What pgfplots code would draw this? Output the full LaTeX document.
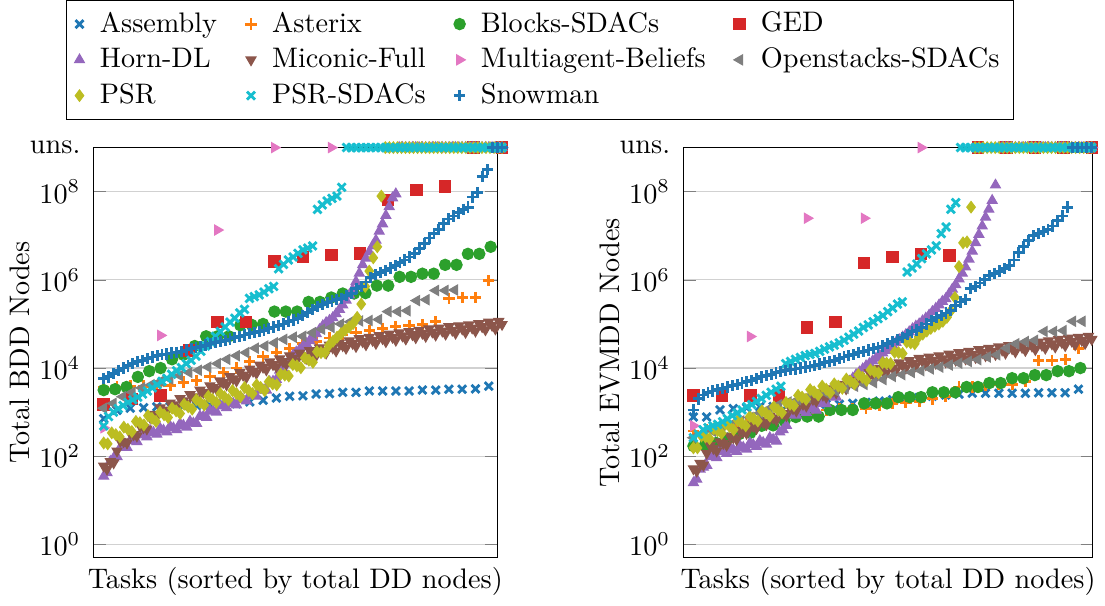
\documentclass[border=0pt]{standalone}
\usepackage{pgfplots}
\pgfplotsset{compat=1.18}
\definecolor{tBlue}{HTML}{1F77B4}
\definecolor{tOrange}{HTML}{FF7F0E}
\definecolor{tGreen}{HTML}{2CA02C}
\definecolor{tRed}{HTML}{D62728}
\definecolor{tPurple}{HTML}{9467BD}
\definecolor{tBrown}{HTML}{8C564B}
\definecolor{tPink}{HTML}{E377C2}
\definecolor{tGray}{HTML}{7F7F7F}
\definecolor{tOlive}{HTML}{BCBD22}
\definecolor{tCyan}{HTML}{17BECF}

\pgfplotsset{
  serAsm/.style={only marks, color=tBlue, mark=x, mark options={line width=1pt}},
  serAst/.style={only marks, color=tOrange, mark=+, mark options={line width=1pt}},
  serBlk/.style={only marks, color=tGreen, mark=*},
  serGed/.style={only marks, color=tRed, mark=square*},
  serHor/.style={only marks, color=tPurple, mark=triangle*},
  serMic/.style={only marks, color=tBrown, mark=triangle*, mark options={rotate=180}},
  serMul/.style={only marks, color=tPink, mark=triangle*, mark options={rotate=-90}},
  serOps/.style={only marks, color=tGray, mark=triangle*, mark options={rotate=90}},
  serPsr/.style={only marks, color=tOlive, mark=diamond*},
  serPss/.style={only marks, color=tCyan, mark=x, mark options={line width=1pt}},
  serSno/.style={only marks, color=tBlue, mark=+, mark options={line width=1pt}},
}

\begin{document}
\begin{tikzpicture}
% ---------------- BDD ----------------
\begin{axis}[scale only axis, width=142.8pt, height=145.2pt,
  xmin=-0.025, xmax=0.9875, ymode=log, ymin=0.5, ymax=1e9, xtick=\empty,
  ytick={1,1e2,1e4,1e6,1e8,1e9},
  yticklabels={$10^0$,$10^2$,$10^4$,$10^6$,$10^8$,uns.},
  yticklabel style={xshift=-1.2pt},
  ymajorgrids, grid style={black!18}, clip=false,
  xlabel={Tasks (sorted by total DD nodes)},
  ylabel={Total BDD Nodes},
  ylabel style={at={(axis description cs:-0.135,0.5)}, anchor=south},
  legend columns=4, legend cell align=left,
  legend style={at={(1.106,1.068)}, anchor=south, draw=black,
    /tikz/every odd column/.append style={column sep=3.5pt},
    /tikz/every even column/.append style={column sep=8pt}}]
\addplot[serAsm] table[header=false, row sep=\\, y index=0, x expr=\coordindex/30] {
7.1e2\\1.1e3\\1.23e3\\1.26e3\\1.32e3\\1.35e3\\1.38e3\\1.41e3\\1.45e3\\1.51e3\\
1.55e3\\1.7e3\\1.86e3\\2.09e3\\2.29e3\\2.34e3\\2.57e3\\2.63e3\\2.82e3\\2.82e3\\
3.02e3\\3.02e3\\3.02e3\\3.02e3\\3.16e3\\3.16e3\\3.31e3\\3.31e3\\3.39e3\\3.89e3\\
1e9\\};
\addlegendentry{Assembly}
\addplot[serAst] table[header=false, row sep=\\, y index=0, x expr=\coordindex/30] {
3.55e3\\3.72e3\\3.89e3\\3.89e3\\3.98e3\\3.98e3\\4.79e3\\5.25e3\\6.46e3\\7.94e3\\
1e4\\1.41e4\\1.86e4\\2.24e4\\2.82e4\\3.55e4\\3.98e4\\4.79e4\\5.62e4\\6.31e4\\
7.08e4\\7.94e4\\8.71e4\\9.33e4\\9.55e4\\1.12e5\\3.8e5\\3.98e5\\3.98e5\\9.55e5\\
1e9\\};
\addlegendentry{Asterix}
\addplot[serBlk] table[header=false, row sep=\\, y index=0, x expr=\coordindex/35] {
3.16e3\\3.31e3\\3.72e3\\6.31e3\\8.51e3\\1e4\\1.58e4\\2e4\\3.16e4\\5.25e4\\
5.25e4\\5.25e4\\9.33e4\\9.55e4\\1e5\\1.91e5\\1.91e5\\1.91e5\\3.16e5\\3.16e5\\
3.98e5\\4.9e5\\4.9e5\\5.01e5\\7.41e5\\7.41e5\\1.17e6\\1.17e6\\1.38e6\\1.38e6\\
2.19e6\\2.19e6\\3.89e6\\3.89e6\\5.62e6\\1e9\\};
\addlegendentry{Blocks-SDACs}
\addplot[serGed] table[header=false, row sep=\\, y index=0, x expr=\coordindex/14] {
1.5e3\\2e3\\2.4e3\\2.5e4\\1.1e5\\1.1e5\\2.6e6\\3.3e6\\3.7e6\\4e6\\
6.5e7\\1.1e8\\1.3e8\\1e9\\1e9\\};
\addlegendentry{GED}
\addplot[serHor] table[header=false, row sep=\\, y index=0, x expr=\coordindex/120] {
35\\42\\76\\91\\98\\158\\166\\158\\229\\224\\
214\\316\\302\\275\\380\\347\\316\\427\\389\\355\\
479\\437\\398\\550\\501\\457\\617\\562\\550\\813\\
794\\759\\1.1e3\\1.05e3\\1e3\\1.45e3\\1.38e3\\1.26e3\\1.74e3\\1.58e3\\
1.45e3\\2.04e3\\1.91e3\\1.78e3\\2.51e3\\2.4e3\\2.29e3\\3.31e3\\3.16e3\\3.16e3\\
4.9e3\\5.01e3\\5.5e3\\8.91e3\\9.77e3\\1.23e4\\1.55e4\\1.95e4\\2.29e4\\2.63e4\\
3.09e4\\3.63e4\\4.17e4\\4.9e4\\6.03e4\\7.41e4\\9.12e4\\1.07e5\\1.2e5\\1.38e5\\
1.7e5\\2.14e5\\2.69e5\\3.47e5\\4.57e5\\6.03e5\\9.12e5\\1.41e6\\2.19e6\\3.09e6\\
4.27e6\\5.89e6\\7.94e6\\1.26e7\\1.86e7\\2.88e7\\4.57e7\\7.24e7\\8.91e7\\1e9\\
1e9\\1e9\\1e9\\1e9\\1e9\\1e9\\1e9\\1e9\\1e9\\1e9\\
1e9\\1e9\\1e9\\1e9\\1e9\\1e9\\1e9\\1e9\\1e9\\1e9\\
1e9\\1e9\\1e9\\1e9\\1e9\\1e9\\1e9\\1e9\\1e9\\1e9\\
1e9\\};
\addlegendentry{Horn-DL}
\addplot[serMic] table[header=false, row sep=\\, y index=0, x expr=\coordindex/120] {
60\\51\\76\\71\\132\\219\\214\\200\\331\\309\\
288\\479\\447\\417\\759\\891\\794\\1.26e3\\1.12e3\\1.02e3\\
1.62e3\\1.48e3\\1.32e3\\2.04e3\\1.82e3\\1.62e3\\2.51e3\\2.24e3\\2e3\\3.16e3\\
2.82e3\\2.57e3\\3.98e3\\3.63e3\\3.31e3\\5.13e3\\4.68e3\\4.17e3\\6.46e3\\5.75e3\\
5.13e3\\7.94e3\\6.92e3\\6.17e3\\9.55e3\\8.51e3\\7.59e3\\1.17e4\\1.05e4\\9.12e3\\
1.38e4\\1.2e4\\1.07e4\\1.62e4\\1.41e4\\1.23e4\\1.91e4\\1.66e4\\1.45e4\\2.19e4\\
1.91e4\\1.66e4\\2.51e4\\2.19e4\\1.91e4\\2.88e4\\2.51e4\\2.19e4\\3.31e4\\2.88e4\\
2.45e4\\3.72e4\\3.24e4\\2.82e4\\4.17e4\\3.63e4\\3.09e4\\4.68e4\\3.98e4\\3.39e4\\
5.01e4\\4.27e4\\3.63e4\\5.5e4\\4.68e4\\3.98e4\\5.89e4\\5.01e4\\4.27e4\\6.31e4\\
5.37e4\\4.57e4\\6.76e4\\5.75e4\\4.9e4\\7.24e4\\6.17e4\\5.25e4\\7.76e4\\6.61e4\\
5.62e4\\8.13e4\\6.92e4\\5.89e4\\8.71e4\\7.24e4\\6.17e4\\9.12e4\\7.76e4\\6.46e4\\
9.55e4\\8.13e4\\6.92e4\\1.02e5\\8.71e4\\7.41e4\\1.1e5\\9.33e4\\7.76e4\\1.15e5\\
9.77e4\\};
\addlegendentry{Miconic-Full}
\addplot[serMul] table[header=false, row sep=\\, y index=0, x expr=\coordindex/7] {
4.4e2\\5.5e4\\1.35e7\\1e9\\1e9\\1e9\\1e9\\1e9\\};
\addlegendentry{Multiagent-Beliefs}
\addplot[serOps] table[header=false, row sep=\\, y index=0, x expr=\coordindex/42] {
1.23e3\\1.58e3\\2.24e3\\2.82e3\\3.55e3\\4.17e3\\5.01e3\\5.62e3\\6.76e3\\7.94e3\\
8.91e3\\1.05e4\\1.26e4\\1.58e4\\1.91e4\\2.24e4\\2.82e4\\3.16e4\\3.72e4\\4.47e4\\
5.01e4\\5.25e4\\6.31e4\\7.59e4\\8.32e4\\1e5\\1.12e5\\1.17e5\\1.2e5\\1.26e5\\
1.91e5\\1.91e5\\2e5\\3.39e5\\3.55e5\\5.75e5\\5.75e5\\5.89e5\\1e9\\1e9\\
1e9\\1e9\\1e9\\};
\addlegendentry{Openstacks-SDACs}
\addplot[serPsr] table[header=false, row sep=\\, y index=0, x expr=\coordindex/99] {
200\\191\\339\\309\\275\\457\\407\\363\\617\\575\\
513\\832\\724\\617\\1e3\\871\\759\\1.23e3\\1.07e3\\933\\
1.51e3\\1.32e3\\1.17e3\\1.91e3\\1.66e3\\1.45e3\\2.29e3\\1.95e3\\1.66e3\\2.63e3\\
2.24e3\\1.91e3\\3.09e3\\2.63e3\\2.24e3\\3.63e3\\3.09e3\\2.63e3\\4.17e3\\3.63e3\\
3.09e3\\4.9e3\\4.37e3\\4.17e3\\7.24e3\\6.92e3\\6.61e3\\1.2e4\\1.12e4\\1.02e4\\
1.7e4\\1.51e4\\1.35e4\\2.34e4\\2.24e4\\2.24e4\\3.31e4\\4.07e4\\5.01e4\\6.03e4\\
7.24e4\\8.51e4\\1.02e5\\1.41e5\\2.82e5\\7.08e5\\1.58e6\\3.16e6\\5.62e6\\7.94e7\\
1e9\\1e9\\1e9\\1e9\\1e9\\1e9\\1e9\\1e9\\1e9\\1e9\\
1e9\\1e9\\1e9\\1e9\\1e9\\1e9\\1e9\\1e9\\1e9\\1e9\\
1e9\\1e9\\1e9\\1e9\\1e9\\1e9\\1e9\\1e9\\1e9\\1e9\\};
\addlegendentry{PSR}
\addplot[serPss] table[header=false, row sep=\\, y index=0, x expr=\coordindex/82] {
4.9e2\\7.94e2\\1e3\\1.2e3\\1.41e3\\1.66e3\\1.91e3\\2.19e3\\2.57e3\\3.02e3\\
3.55e3\\4.17e3\\5.01e3\\5.89e3\\7.24e3\\8.71e3\\1.02e4\\1.26e4\\1.51e4\\1.86e4\\
2.4e4\\3.16e4\\3.98e4\\5.25e4\\6.76e4\\8.51e4\\1.1e5\\1.35e5\\1.78e5\\2.14e5\\
3.8e5\\4.17e5\\4.57e5\\5.25e5\\6.31e5\\7.08e5\\1.78e6\\2.24e6\\2.82e6\\3.31e6\\
3.98e6\\4.79e6\\5.25e6\\5.89e6\\3.98e7\\5.01e7\\6.17e7\\7.08e7\\7.94e7\\1.26e8\\
1e9\\1e9\\1e9\\1e9\\1e9\\1e9\\1e9\\1e9\\1e9\\1e9\\
1e9\\1e9\\1e9\\1e9\\1e9\\1e9\\1e9\\1e9\\1e9\\1e9\\
1e9\\1e9\\1e9\\1e9\\1e9\\1e9\\1e9\\1e9\\1e9\\1e9\\
1e9\\1e9\\1e9\\};
\addlegendentry{PSR-SDACs}
\addplot[serSno] table[header=false, row sep=\\, y index=0, x expr=\coordindex/82] {
5.89e3\\6.31e3\\7.59e3\\8.91e3\\1e4\\1.12e4\\1.26e4\\1.41e4\\1.51e4\\1.62e4\\
1.78e4\\1.91e4\\2e4\\2.09e4\\2.19e4\\2.29e4\\2.4e4\\2.57e4\\2.75e4\\2.95e4\\
3.09e4\\3.31e4\\3.55e4\\3.8e4\\3.98e4\\4.27e4\\4.57e4\\4.9e4\\5.25e4\\5.62e4\\
6.03e4\\6.31e4\\6.76e4\\7.24e4\\7.94e4\\8.51e4\\9.33e4\\1e5\\1.12e5\\1.23e5\\
1.35e5\\1.58e5\\1.82e5\\2.09e5\\2.51e5\\2.75e5\\3.02e5\\3.31e5\\3.55e5\\3.8e5\\
4.37e5\\5.01e5\\6.31e5\\7.08e5\\8.91e5\\1.12e6\\1.32e6\\1.48e6\\1.66e6\\1.86e6\\
2.14e6\\2.51e6\\2.82e6\\3.31e6\\3.98e6\\5.25e6\\6.76e6\\8.91e6\\1.12e7\\1.41e7\\
1.91e7\\2.4e7\\2.82e7\\3.31e7\\3.98e7\\4.47e7\\7.59e7\\9.55e7\\2.24e8\\3.16e8\\
1e9\\1e9\\1e9\\};
\addlegendentry{Snowman}
\end{axis}

% ---------------- EVMDD ----------------
\begin{axis}[at={(208.8pt,0)}, scale only axis, width=144.9pt, height=145.2pt,
  xmin=-0.025, xmax=1.0025, ymode=log, ymin=0.5, ymax=1e9, xtick=\empty,
  ytick={1,1e2,1e4,1e6,1e8,1e9},
  yticklabels={$10^0$,$10^2$,$10^4$,$10^6$,$10^8$,uns.},
  yticklabel style={xshift=-1.2pt},
  ymajorgrids, grid style={black!18}, clip=false,
  xlabel={Tasks (sorted by total DD nodes)},
  ylabel={Total EVMDD Nodes},
  ylabel style={at={(axis description cs:-0.131,0.5)}, anchor=south}]
\addplot[serAsm] table[header=false, row sep=\\, y index=0, x expr=\coordindex/30] {
7.76e2\\7.76e2\\1.12e3\\1.2e3\\1.26e3\\1.32e3\\1.35e3\\1.38e3\\1.41e3\\1.45e3\\
1.51e3\\1.51e3\\1.58e3\\1.66e3\\1.78e3\\1.91e3\\2e3\\2.14e3\\2.29e3\\2.45e3\\
2.57e3\\2.69e3\\2.69e3\\2.69e3\\2.69e3\\2.69e3\\2.75e3\\2.75e3\\2.75e3\\3.31e3\\
1e9\\};
\addplot[serAst] table[header=false, row sep=\\, y index=0, x expr=\coordindex/30] {
3.72e2\\3.98e2\\4.47e2\\5.01e2\\5.62e2\\6.31e2\\7.08e2\\7.94e2\\8.91e2\\1e3\\
1.12e3\\1.17e3\\1.2e3\\1.23e3\\1.41e3\\1.58e3\\1.66e3\\1.78e3\\2e3\\2.24e3\\
3.72e3\\3.72e3\\3.98e3\\4.27e3\\4.27e3\\5.01e3\\1.51e4\\1.51e4\\1.58e4\\2.82e4\\
1e9\\};
\addplot[serBlk] table[header=false, row sep=\\, y index=0, x expr=\coordindex/35] {
1.7e2\\1.78e2\\2e2\\2.51e2\\3.16e2\\3.39e2\\4.9e2\\5.01e2\\6.31e2\\7.76e2\\
7.94e2\\7.94e2\\1.12e3\\1.12e3\\1.12e3\\1.58e3\\1.58e3\\1.58e3\\2.19e3\\2.19e3\\
2.19e3\\2.82e3\\2.82e3\\2.82e3\\3.72e3\\3.72e3\\4.57e3\\4.57e3\\5.89e3\\5.89e3\\
6.92e3\\6.92e3\\8.51e3\\8.51e3\\1e4\\1e9\\};
\addplot[serGed] table[header=false, row sep=\\, y index=0, x expr=\coordindex/14] {
2.4e3\\2.4e3\\2.4e3\\2.4e3\\8.3e4\\1.1e5\\2.4e6\\3.3e6\\3.9e6\\3.6e6\\
1e9\\1e9\\1e9\\1e9\\1e9\\};
\addplot[serHor] table[header=false, row sep=\\, y index=0, x expr=\coordindex/120] {
25\\30\\51\\56\\62\\98\\100\\93\\135\\126\\
115\\155\\141\\129\\174\\158\\145\\200\\182\\166\\
224\\204\\186\\263\\240\\219\\355\\398\\501\\871\\
933\\851\\1.17e3\\1.07e3\\977\\1.35e3\\1.2e3\\1.1e3\\1.58e3\\1.58e3\\
1.55e3\\2.34e3\\2.24e3\\2.19e3\\3.39e3\\3.55e3\\4.27e3\\5.01e3\\5.89e3\\7.08e3\\
8.13e3\\9.55e3\\1.12e4\\1.26e4\\1.45e4\\1.66e4\\1.91e4\\2.19e4\\2.51e4\\2.88e4\\
3.31e4\\3.8e4\\4.37e4\\5.01e4\\5.75e4\\6.61e4\\7.76e4\\8.91e4\\1e5\\1.17e5\\
1.35e5\\1.58e5\\1.91e5\\2.24e5\\2.69e5\\3.24e5\\3.72e5\\4.79e5\\6.17e5\\7.76e5\\
1.05e6\\1.41e6\\1.95e6\\2.95e6\\4.47e6\\6.92e6\\1.07e7\\1.66e7\\2.63e7\\3.98e7\\
6.31e7\\1.41e8\\1e9\\1e9\\1e9\\1e9\\1e9\\1e9\\1e9\\1e9\\
1e9\\1e9\\1e9\\1e9\\1e9\\1e9\\1e9\\1e9\\1e9\\1e9\\
1e9\\1e9\\1e9\\1e9\\1e9\\1e9\\1e9\\1e9\\1e9\\1e9\\
1e9\\};
\addplot[serMic] table[header=false, row sep=\\, y index=0, x expr=\coordindex/120] {
52\\46\\69\\63\\117\\174\\151\\132\\214\\195\\
178\\288\\263\\240\\389\\355\\331\\525\\479\\427\\
661\\589\\525\\813\\741\\661\\1.02e3\\933\\832\\1.32e3\\
1.2e3\\1.07e3\\1.7e3\\1.51e3\\1.38e3\\2.19e3\\1.95e3\\1.78e3\\2.75e3\\2.45e3\\
2.19e3\\3.39e3\\3.02e3\\2.75e3\\4.27e3\\3.8e3\\3.39e3\\5.25e3\\4.79e3\\4.27e3\\
6.46e3\\5.75e3\\5.13e3\\7.94e3\\7.08e3\\6.31e3\\9.77e3\\8.71e3\\7.59e3\\1.15e4\\
1e4\\8.71e3\\1.32e4\\1.15e4\\1e4\\1.48e4\\1.29e4\\1.12e4\\1.66e4\\1.41e4\\
1.2e4\\1.78e4\\1.51e4\\1.29e4\\1.91e4\\1.62e4\\1.38e4\\2.09e4\\1.78e4\\1.51e4\\
2.24e4\\1.91e4\\1.62e4\\2.4e4\\2.04e4\\1.74e4\\2.63e4\\2.24e4\\1.91e4\\2.82e4\\
2.4e4\\2.04e4\\3.02e4\\2.57e4\\2.19e4\\3.24e4\\2.75e4\\2.34e4\\3.47e4\\2.95e4\\
2.51e4\\3.72e4\\3.16e4\\2.63e4\\3.89e4\\3.31e4\\2.82e4\\4.17e4\\3.55e4\\3.02e4\\
4.47e4\\3.8e4\\3.24e4\\4.79e4\\4.07e4\\3.39e4\\5.01e4\\4.27e4\\3.63e4\\5.25e4\\
4.47e4\\};
\addplot[serMul] table[header=false, row sep=\\, y index=0, x expr=\coordindex/7] {
4.9e2\\5.2e4\\2.5e7\\2.5e7\\1e9\\1e9\\1e9\\1e9\\};
\addplot[serOps] table[header=false, row sep=\\, y index=0, x expr=\coordindex/42] {
2.63e2\\3.16e2\\3.72e2\\4.47e2\\5.25e2\\6.31e2\\7.59e2\\9.55e2\\1.2e3\\1.48e3\\
1.7e3\\1.91e3\\2.14e3\\2.4e3\\2.69e3\\3.02e3\\3.47e3\\3.89e3\\4.27e3\\4.68e3\\
5.5e3\\6.46e3\\7.08e3\\7.94e3\\8.71e3\\9.55e3\\1.05e4\\1.17e4\\1.29e4\\1.41e4\\
1.55e4\\1.78e4\\2e4\\2.82e4\\3.55e4\\3.98e4\\4.27e4\\6.76e4\\6.76e4\\7.08e4\\
1.15e5\\1.15e5\\1e9\\};
\addplot[serPsr] table[header=false, row sep=\\, y index=0, x expr=\coordindex/99] {
155\\155\\288\\275\\251\\417\\380\\331\\537\\468\\
398\\646\\562\\490\\794\\708\\631\\1.07e3\\955\\813\\
1.32e3\\1.12e3\\977\\1.66e3\\1.51e3\\1.41e3\\2.4e3\\2.19e3\\1.95e3\\3.24e3\\
2.88e3\\2.45e3\\3.89e3\\3.31e3\\2.75e3\\4.37e3\\3.89e3\\3.47e3\\5.62e3\\5.01e3\\
4.37e3\\7.08e3\\6.17e3\\5.25e3\\9.12e3\\8.32e3\\7.76e3\\1.32e4\\1.29e4\\1.26e4\\
2.29e4\\2.24e4\\2.14e4\\3.89e4\\3.72e4\\3.55e4\\5.13e4\\5.89e4\\6.92e4\\7.94e4\\
8.91e4\\1e5\\1.15e5\\1.41e5\\2e5\\3.98e5\\2e6\\6.92e6\\7.24e6\\4.47e7\\
1e9\\1e9\\1e9\\1e9\\1e9\\1e9\\1e9\\1e9\\1e9\\1e9\\
1e9\\1e9\\1e9\\1e9\\1e9\\1e9\\1e9\\1e9\\1e9\\1e9\\
1e9\\1e9\\1e9\\1e9\\1e9\\1e9\\1e9\\1e9\\1e9\\1e9\\};
\addplot[serPss] table[header=false, row sep=\\, y index=0, x expr=\coordindex/82] {
2.63e2\\3.16e2\\3.98e2\\4.47e2\\4.9e2\\5.25e2\\6.03e2\\7.08e2\\8.32e2\\9.55e2\\
1.12e3\\1.32e3\\1.48e3\\1.74e3\\2.04e3\\2.4e3\\2.82e3\\3.31e3\\3.89e3\\1.26e4\\
1.41e4\\1.58e4\\1.74e4\\1.91e4\\2.04e4\\2.14e4\\2.4e4\\2.69e4\\3.02e4\\3.31e4\\
3.72e4\\4.27e4\\5.01e4\\5.89e4\\6.92e4\\8.32e4\\9.55e4\\1.12e5\\1.32e5\\1.55e5\\
1.91e5\\2.29e5\\2.82e5\\3.16e5\\1.51e6\\1.86e6\\2.29e6\\3.02e6\\3.89e6\\4.79e6\\
5.89e6\\1.12e7\\1.58e7\\3.98e7\\5.62e7\\1e9\\1e9\\1e9\\1e9\\1e9\\
1e9\\1e9\\1e9\\1e9\\1e9\\1e9\\1e9\\1e9\\1e9\\1e9\\
1e9\\1e9\\1e9\\1e9\\1e9\\1e9\\1e9\\1e9\\1e9\\1e9\\
1e9\\1e9\\1e9\\};
\addplot[serSno] table[header=false, row sep=\\, y index=0, x expr=\coordindex/82] {
1.12e3\\2e3\\2.45e3\\2.75e3\\3.02e3\\3.24e3\\3.47e3\\3.72e3\\3.98e3\\4.27e3\\
4.57e3\\4.9e3\\5.25e3\\5.75e3\\6.31e3\\6.76e3\\7.24e3\\7.76e3\\8.32e3\\8.71e3\\
9.12e3\\9.55e3\\1e4\\1.05e4\\1.1e4\\1.15e4\\1.23e4\\1.32e4\\1.41e4\\1.51e4\\
1.62e4\\1.78e4\\1.91e4\\2.04e4\\2.24e4\\2.4e4\\2.57e4\\2.75e4\\2.95e4\\3.16e4\\
3.55e4\\3.98e4\\4.47e4\\5.01e4\\5.75e4\\6.61e4\\7.24e4\\8.32e4\\1e5\\1.2e5\\
1.41e5\\1.58e5\\1.78e5\\2e5\\2.63e5\\3.16e5\\3.55e5\\6.31e5\\7.08e5\\8.51e5\\
1e6\\1.26e6\\1.41e6\\1.58e6\\1.78e6\\2.09e6\\2.82e6\\4.17e6\\5.62e6\\7.94e6\\
1e7\\1.12e7\\1.23e7\\1.41e7\\1.66e7\\2.24e7\\2.82e7\\4.47e7\\1e9\\1e9\\
1e9\\1e9\\1e9\\};
\end{axis}
\end{tikzpicture}
\end{document}
